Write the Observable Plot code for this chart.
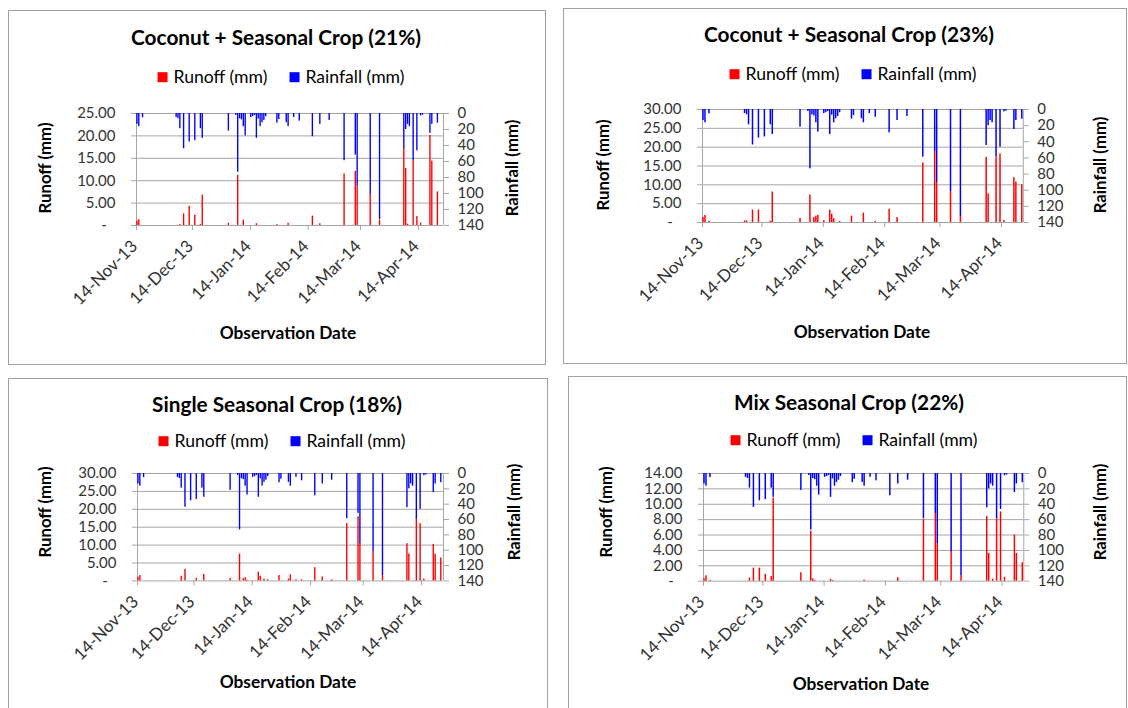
<!DOCTYPE html>
<html><head><meta charset="utf-8">
<script src="https://cdn.jsdelivr.net/npm/d3@7"></script>
<script src="https://cdn.jsdelivr.net/npm/@observablehq/plot@0.6"></script>
<style>
body{margin:0;background:#fff;font-family:Lato,"Open Sans",sans-serif;}
#root{position:relative;width:1128px;height:708px;overflow:hidden;background:#fff;}
.box{position:absolute;border:1px solid #a0a0a0;box-sizing:border-box;background:#fff;}
.t{position:absolute;white-space:nowrap;color:#000;line-height:1;}
.lg{position:absolute;display:flex;align-items:center;transform:translate(-50%,-50%);white-space:nowrap;font-size:17.6px;color:#000;line-height:1;}
.sq{display:inline-block;width:10px;height:10px;margin-right:6px;}
svg{position:absolute;}
</style></head><body><div id="root"></div>
<script>
// ---- data ----
const dates = ["2013-11-14","2013-11-15","2013-11-17","2013-12-05","2013-12-06","2013-12-07","2013-12-09","2013-12-12","2013-12-15","2013-12-18","2013-12-19","2014-01-02","2014-01-06","2014-01-07","2014-01-08","2014-01-09","2014-01-10","2014-01-11","2014-01-14","2014-01-15","2014-01-16","2014-01-17","2014-01-18","2014-01-19","2014-01-20","2014-01-21","2014-01-22","2014-01-28","2014-01-29","2014-02-02","2014-02-03","2014-02-06","2014-02-09","2014-02-16","2014-02-20","2014-02-25","2014-03-05","2014-03-11","2014-03-12","2014-03-19","2014-03-24","2014-04-06","2014-04-07","2014-04-08","2014-04-09","2014-04-11","2014-04-13","2014-04-15","2014-04-16","2014-04-20","2014-04-21","2014-04-24"];
const rainfall = [13.6,16.5,5.4,5,6.5,19,44,35.5,34,19,31,22,2.5,73.5,6.6,8,16.5,28,5,4,2.5,31,7,16.5,11.6,8.7,4,12,7.5,11.6,16.5,5,9.5,29,13.6,8.7,59,52,91,101.6,132.6,44.6,20,13.6,16.5,59,46.7,3,2,24.8,13.6,12];
const runoffCoconut21 = [1.0,1.3,0,0,0,0.2,2.6,4.3,2.3,0.2,6.8,0.5,0,11.2,0,0,1.2,0,0,0,0,0.4,0,0,0,0,0,0.2,0,0,0.5,0,0,2.1,0.4,0,11.5,12.1,8.7,6.9,1.2,17.1,12.7,0.3,0,14.5,2.0,0.5,0,20.1,14.4,7.5];
const runoffCoconut23 = [1.3,1.9,0.3,0.4,0.4,0,3.3,3.3,0,0.3,8.1,1.1,0,7.3,0,1.3,1.7,1.9,0.5,0,0,3.3,2.2,1.0,0,0,0.3,1.7,0,0,2.5,0,0.3,3.5,1.3,0,15.8,18.9,10.5,8.3,1.6,17.3,7.6,0,0,17.3,18.2,0.5,0,11.9,10.7,10];
const runoffSingle18 = [1.0,1.5,0,0,0,1.3,3.2,0,0.7,0,1.8,0.7,0,7.5,0,0.6,0.9,0.2,0,0,0,2.4,1.3,0,0.5,0,0.3,1.5,0,0.5,1.7,0.3,0.3,3.7,1.1,0.3,16.0,17.9,10.7,8.3,1.8,10.4,7.5,0,0,17.6,16.0,0.5,0,10.2,7.5,6.4];
const runoffMix22 = [0.3,0.7,0.1,0,0,0.4,1.7,1.7,0.9,0.6,10.8,1.1,0,6.5,0.3,0.1,0,0,0,0,0,0.25,0.1,0,0,0,0,0,0,0,0.15,0,0,0,0.45,0,8.0,8.8,4.9,3.9,0.75,8.4,3.6,0,0.25,8.1,9.0,0.5,0,6.0,3.6,2.4];
const titles = ["Coconut + Seasonal Crop (21%)","Coconut + Seasonal Crop (23%)","Single Seasonal Crop (18%)","Mix Seasonal Crop (22%)"];
const runoffSeries = [runoffCoconut21, runoffCoconut23, runoffSingle18, runoffMix22];
const runoffMax = [25, 30, 30, 14];
const runoffStep = [5, 5, 5, 2];
const rainTicks = [0,20,40,60,80,100,120,140];
const xTickDates = ["2013-11-14","2013-12-14","2014-01-14","2014-02-14","2014-03-14","2014-04-14"];
const xStart = "2013-11-14";
const xEnds = ["2014-04-27T12:00","2014-04-25T00:00","2014-04-25T16:00","2014-04-25T00:00"];
const legendLabels = ["Runoff (mm)","Rainfall (mm)"];
const axisTitles = ["Runoff (mm)","Rainfall (mm)","Observation Date"];

// ---- layout (pixels) ----
const layout = [
  {box:[8,10,546,365], plot:[136,112.5,443,224.5], titleX:276, titleY:37, legX:281, legY:77, yl:45, yr:512, yc:168, xtX:288, xtY:333},
  {box:[563,8,1127,364], plot:[701.7,109,1022.5,222], titleX:849, titleY:34, legX:853, legY:74, yl:603, yr:1100, yc:165, xtX:862, xtY:332},
  {box:[8,378,548,716], plot:[136.7,473.3,442.7,580.7], titleX:277, titleY:404, legX:282, legY:441, yl:45, yr:514, yc:512, xtX:288, xtY:682},
  {box:[568,376,1127,716], plot:[702.7,473,1023,580.7], titleX:849, titleY:402, legX:854, legY:440, yl:606, yr:1100, yc:512, xtX:861, xtY:684}
];

const root = document.getElementById("root");
const parse = d3.utcParse("%Y-%m-%d");
const fmt = d3.utcFormat("%d-%b-%y");
const GRAY = "#a6a6a6";

function addText(txt, x, y, css, rotate) {
  const d = document.createElement("div");
  d.className = "t";
  d.textContent = txt;
  d.style.cssText += css;
  d.style.left = x + "px";
  d.style.top = y + "px";
  d.style.transform = "translate(-50%,-50%)" + (rotate ? " rotate(-90deg)" : "");
  root.appendChild(d);
}

layout.forEach((L, i) => {
  const box = document.createElement("div");
  box.className = "box";
  Object.assign(box.style, {left: L.box[0]+"px", top: L.box[1]+"px", width: (L.box[2]-L.box[0])+"px", height: (L.box[3]-L.box[1])+"px"});
  root.appendChild(box);

  addText(titles[i], L.titleX, L.titleY, "font-weight:700;font-size:20.8px;");
  const lg = document.createElement("div");
  lg.className = "lg";
  lg.style.left = L.legX + "px"; lg.style.top = L.legY + "px";
  lg.innerHTML = `<span class="sq" style="background:#ff0000"></span><span>${legendLabels[0]}</span><span style="display:inline-block;width:22px"></span><span class="sq" style="background:#0000ff"></span><span>${legendLabels[1]}</span>`;
  root.appendChild(lg);
  addText(axisTitles[0], L.yl, L.yc, "font-weight:700;font-size:16.8px;", true);
  addText(axisTitles[1], L.yr, L.yc, "font-weight:700;font-size:16.8px;", true);
  addText(axisTitles[2], L.xtX, L.xtY, "font-weight:700;font-size:17.3px;");

  const rows = dates.map((d, j) => ({date: parse(d), rain: rainfall[j], runoff: runoffSeries[i][j]}));
  const mL = 80, mR = 60, mT = 12, mB = 100;
  const W = L.plot[2] - L.plot[0] + mL + mR;
  const H = L.plot[3] - L.plot[1] + mT + mB;
  const xDomain = [parse(xStart), new Date(xEnds[i] + "Z")];
  const yTicks = d3.range(0, runoffMax[i] + 1e-9, runoffStep[i]);
  const common = {
    width: W, height: H, marginLeft: mL, marginRight: mR, marginTop: mT, marginBottom: mB,
    style: {background: "transparent", overflow: "visible", fontFamily: "Lato", color: "#333"}
  };
  const p1 = Plot.plot({
    ...common,
    x: {type: "utc", domain: xDomain, axis: null},
    y: {domain: [0, runoffMax[i]], axis: null},
    marks: [
      Plot.ruleY(yTicks, {stroke: GRAY}),
      Plot.ruleX([xDomain[0]], {stroke: GRAY}),
      Plot.rectY(rows.filter(r => r.runoff > 0), {x: "date", interval: "day", y: "runoff", fill: "#ff0000", insetLeft: 0.25, insetRight: 0.25}),
      Plot.axisY({ticks: yTicks, tickFormat: d => d === 0 ? "-\u2007" : d.toFixed(2), tickSize: 5, tickPadding: 16, stroke: GRAY, fill: "#333", fontSize: 15, label: null}),
      Plot.axisX({ticks: xTickDates.map(parse), tickFormat: fmt, tickSize: 5, stroke: GRAY, text: null, label: null}),
      Plot.axisX({ticks: xTickDates.map(parse), tickFormat: fmt, tickRotate: -45, tickSize: 0, tickPadding: 18, dx: -2, fill: "#333", fontSize: 17, label: null})
    ]
  });
  const p2 = Plot.plot({
    ...common,
    x: {type: "utc", domain: xDomain, axis: null},
    y: {domain: [0, 140], reverse: true, axis: null},
    marks: [
      Plot.ruleX([xDomain[1]], {stroke: GRAY}),
      Plot.rectY(rows, {x: "date", interval: "day", y: "rain", fill: "#0000ff", insetLeft: 0.25, insetRight: 0.25}),
      Plot.axisY({anchor: "right", ticks: rainTicks, tickSize: 5, tickPadding: 9, stroke: GRAY, fill: "#333", fontSize: 15, label: null})
    ]
  });
  for (const p of [p1, p2]) {
    p.style.position = "absolute";
    p.style.left = (L.plot[0] - mL) + "px";
    p.style.top = (L.plot[1] - mT) + "px";
    p.style.maxWidth = "none";
    root.appendChild(p);
  }
});
</script></body></html>
